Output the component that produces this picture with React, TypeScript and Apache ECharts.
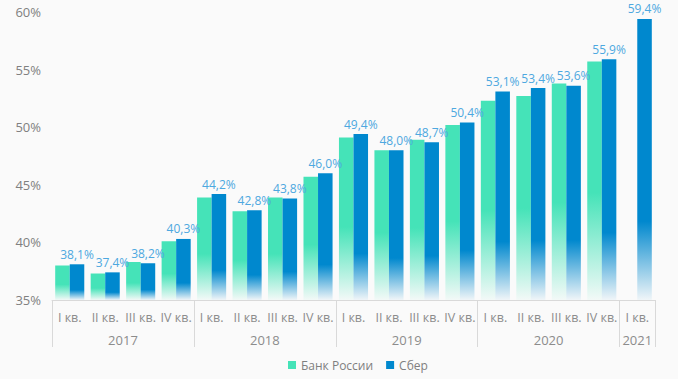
import React, { useEffect, useRef } from "react";
import * as echarts from "echarts";

const quarters = [
  "I кв.", "II кв.", "III кв.", "IV кв.",
  "I кв.", "II кв.", "III кв.", "IV кв.",
  "I кв.", "II кв.", "III кв.", "IV кв.",
  "I кв.", "II кв.", "III кв.", "IV кв.",
  "I кв.",
];
const years = ["2017", "2018", "2019", "2020", "2021"];
const yearCenters = [2, 6, 10, 14, 16.5];
const yearBoundaries = [0, 4, 8, 12, 16];

const bankRussia = [38.0, 37.3, 38.3, 40.1, 43.9, 42.7, 43.9, 45.7, 49.1, 48.0, 48.9, 50.2, 52.3, 52.7, 53.8, 55.7, null];
const sber = [38.1, 37.4, 38.2, 40.3, 44.2, 42.8, 43.8, 46.0, 49.4, 48.0, 48.7, 50.4, 53.1, 53.4, 53.6, 55.9, 59.4];

const GREEN = "#45E3B8";
const BLUE = "#0088CE";
const FONT = "Open Sans";

export default function App() {
  const ref = useRef<HTMLDivElement>(null);
  useEffect(() => {
    if (!ref.current) return;
    const chart = echarts.init(ref.current, undefined, { renderer: "svg" });
    chart.setOption({
      animation: false,
      backgroundColor: "#fafafa",
      textStyle: { fontFamily: FONT },
      grid: { left: 52, right: 23, top: 12, bottom: 79, containLabel: false },
      legend: {
        top: 354,
        left: 283,
        icon: "rect",
        itemWidth: 8,
        itemHeight: 8,
        itemGap: 13,
        textStyle: { color: "#7f7f7f", fontSize: 12, fontFamily: FONT },
        data: [
          { name: "Банк России", itemStyle: { color: GREEN } },
          { name: "Сбер", itemStyle: { color: BLUE } },
        ],
      },
      xAxis: [
        {
          type: "category",
          data: quarters,
          position: "bottom",
          axisLine: { show: true, lineStyle: { color: "#d9d9d9", width: 1 } },
          axisTick: {
            show: true,
            length: 47,
            interval: (idx: number) => yearBoundaries.includes(idx),
            lineStyle: { color: "#d9d9d9", width: 1 },
          },
          axisLabel: { color: "#8c8c8c", fontSize: 12.5, margin: 11, interval: 0, fontFamily: FONT },
        },
        {
          type: "value",
          position: "bottom",
          min: 0,
          max: 17,
          interval: 0.5,
          offset: 22,
          axisLine: { show: false },
          axisTick: { show: false },
          splitLine: { show: false },
          axisLabel: {
            color: "#8c8c8c",
            fontSize: 13,
            margin: 11,
            fontFamily: FONT,
            formatter: (v: number) => {
              const i = yearCenters.indexOf(v);
              return i >= 0 ? years[i] : "";
            },
          },
        },
      ],
      yAxis: {
        type: "value",
        min: 35,
        max: 60,
        interval: 5,
        axisLine: { show: false },
        axisTick: { show: false },
        splitLine: { show: false },
        axisLabel: {
          color: "#808080",
          fontSize: 13,
          margin: 11,
          fontFamily: FONT,
          formatter: (v: number) => `${v}%`,
        },
      },
      series: [
        {
          name: "Банк России",
          type: "bar",
          xAxisIndex: 0,
          data: bankRussia,
          barGap: "0%",
          barCategoryGap: "18%",
          itemStyle: {
            color: new echarts.graphic.LinearGradient(0, 0, 0, 1, [
              { offset: 0, color: GREEN },
              { offset: 0.55, color: GREEN },
              { offset: 1, color: "rgba(69,227,184,0.04)" },
            ]),
          },
        },
        {
          name: "Сбер",
          type: "bar",
          xAxisIndex: 0,
          data: sber,
          barGap: "0%",
          barCategoryGap: "18%",
          itemStyle: {
            color: new echarts.graphic.LinearGradient(0, 0, 0, 1, [
              { offset: 0, color: BLUE },
              { offset: 0.72, color: BLUE },
              { offset: 1, color: "rgba(0,136,206,0.04)" },
            ]),
          },
          label: {
            show: true,
            position: "top",
            distance: 4,
            color: "#4DA8E0",
            fontSize: 12,
            fontFamily: FONT,
            formatter: (p: any) => `${Number(p.value).toFixed(1).replace(".", ",")}%`,
          },
        },
      ],
    });
    return () => chart.dispose();
  }, []);
  return (
    <div
      ref={ref}
      style={{ position: "fixed", left: 0, top: 0, width: 678, height: 379, background: "#fafafa" }}
    />
  );
}
